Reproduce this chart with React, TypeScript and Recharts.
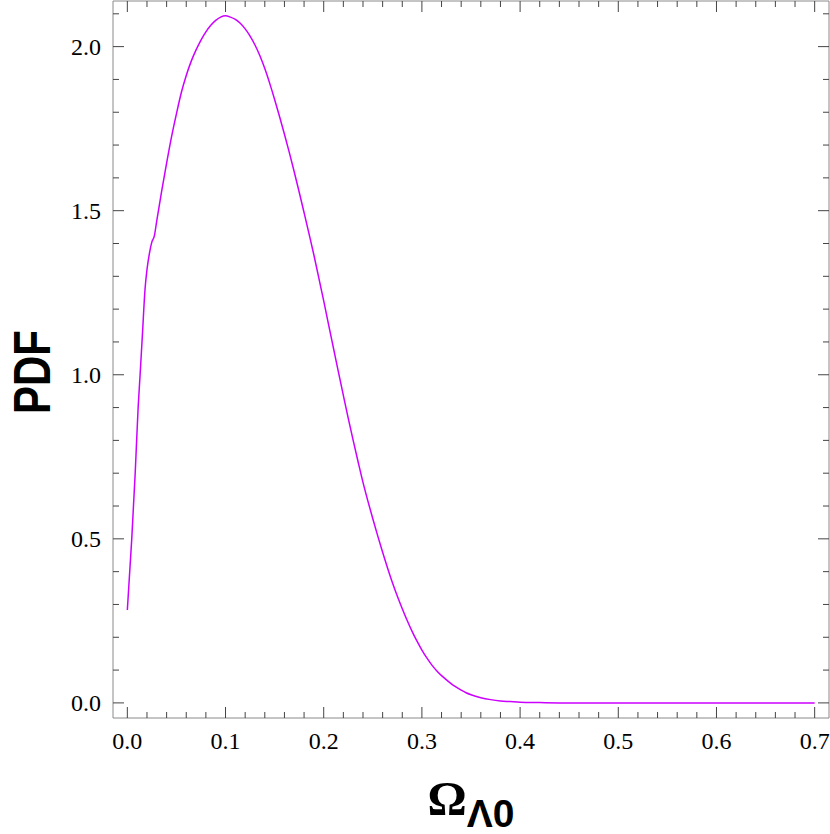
import { LineChart, Line, XAxis, YAxis } from "recharts";

// Omega_Lambda0 values and PDF
const omegaVals = [
  0, 0.0045, 0.008, 0.011, 0.013, 0.0155, 0.018, 0.02, 0.0225, 0.025, 0.0275,
  0.03, 0.035, 0.04, 0.045, 0.05, 0.055, 0.06, 0.065, 0.07, 0.075, 0.08, 0.085,
  0.09, 0.095, 0.1, 0.105, 0.11, 0.115, 0.12, 0.125, 0.13, 0.135, 0.14, 0.145,
  0.15, 0.155, 0.16, 0.165, 0.17, 0.175, 0.18, 0.185, 0.19, 0.195, 0.2, 0.205,
  0.21, 0.215, 0.22, 0.225, 0.23, 0.235, 0.24, 0.245, 0.25, 0.255, 0.26, 0.265,
  0.27, 0.275, 0.28, 0.285, 0.29, 0.295, 0.3, 0.305, 0.31, 0.315, 0.32, 0.325,
  0.33, 0.335, 0.34, 0.345, 0.35, 0.36, 0.37, 0.38, 0.39, 0.4, 0.42, 0.45,
  0.5, 0.6, 0.7,
];
const pdfVals = [
  0.283, 0.5, 0.7, 0.9, 1.0, 1.13, 1.26, 1.32, 1.37, 1.405, 1.423,
  1.47, 1.56, 1.645, 1.725, 1.795, 1.86, 1.912, 1.955, 1.99, 2.02, 2.045, 2.065,
  2.08, 2.09, 2.094, 2.09, 2.083, 2.071, 2.054, 2.032, 2.005, 1.972, 1.933, 1.888,
  1.839, 1.787, 1.733, 1.677, 1.618, 1.557, 1.494, 1.43, 1.365, 1.295, 1.225, 1.152,
  1.08, 1.008, 0.937, 0.867, 0.8, 0.735, 0.672, 0.615, 0.561, 0.509, 0.459, 0.411,
  0.366, 0.325, 0.287, 0.251, 0.218, 0.188, 0.161, 0.137, 0.116, 0.098, 0.083, 0.07,
  0.058, 0.048, 0.039, 0.031, 0.025, 0.016, 0.01, 0.006, 0.004, 0.002, 0.001, 0,
  0, 0, 0,
];

const xTicks = Array.from({ length: 36 }, (_, i) => i / 50);
const yTicks = Array.from({ length: 22 }, (_, i) => i / 10);

const X_DOMAIN = [-0.0146, 0.7146];
const Y_DOMAIN = [-0.046, 2.139];

// frame edges (chart is 830x834, plot box from margins/axis sizes below)
const PLOT_TOP = 1;
const PLOT_RIGHT = 829;

const TICK_COLOR = "#444";
const AXIS_COLOR = "#8a8a8a";
const SERIF = "'Liberation Serif', 'DejaVu Serif', serif";
const SANS = "'Liberation Sans', Arial, sans-serif";

const isMajorX = (v: number) => Math.round(v * 50) % 5 === 0;
const isMajorY = (v: number) => Math.round(v * 10) % 5 === 0;

// bottom tick + mirrored tick on the top edge
const BottomTick = ({ x, y, payload }: any) => {
  const len = isMajorX(payload.value) ? 11 : 6;
  return (
    <g>
      <line x1={x} x2={x} y1={y} y2={y - len} stroke={TICK_COLOR} />
      <line x1={x} x2={x} y1={PLOT_TOP} y2={PLOT_TOP + len} stroke={TICK_COLOR} />
      {len === 11 && (
        <text x={x} y={y + 31} textAnchor="middle" fontFamily={SERIF} fontSize={24} fill="#000">
          {payload.value.toFixed(1)}
        </text>
      )}
    </g>
  );
};

// left tick + mirrored tick on the right edge
const LeftTick = ({ x, y, payload }: any) => {
  const len = isMajorY(payload.value) ? 11 : 6;
  return (
    <g>
      <line x1={x} x2={x + len} y1={y} y2={y} stroke={TICK_COLOR} />
      <line x1={PLOT_RIGHT} x2={PLOT_RIGHT - len} y1={y} y2={y} stroke={TICK_COLOR} />
      {len === 11 && (
        <text x={x - 12} y={y + 8} textAnchor="end" fontFamily={SERIF} fontSize={24} fill="#000">
          {payload.value.toFixed(1)}
        </text>
      )}
    </g>
  );
};

export default function App() {
  const data = omegaVals.map((o, i) => ({ omega: o, pdf: pdfVals[i] }));

  return (
    <div style={{ position: "absolute", left: 0, top: 0, width: 830, height: 834, background: "#fff" }}>
      <LineChart width={830} height={834} data={data} margin={{ top: 0, right: 0, left: 0, bottom: 0 }}>
        <XAxis
          dataKey="omega"
          type="number"
          domain={X_DOMAIN}
          allowDataOverflow
          ticks={xTicks}
          interval={0}
          height={116}
          tickSize={0}
          tickMargin={0}
          tickLine={false}
          axisLine={{ stroke: AXIS_COLOR }}
          tick={<BottomTick />}
        />
        <XAxis
          xAxisId="top"
          orientation="top"
          height={1}
          tick={false}
          tickLine={false}
          axisLine={{ stroke: AXIS_COLOR }}
        />
        <YAxis
          type="number"
          domain={Y_DOMAIN}
          allowDataOverflow
          ticks={yTicks}
          interval={0}
          width={113}
          tickSize={0}
          tickMargin={0}
          tickLine={false}
          axisLine={{ stroke: AXIS_COLOR }}
          tick={<LeftTick />}
        />
        <YAxis
          yAxisId="right"
          orientation="right"
          width={1}
          tick={false}
          tickLine={false}
          axisLine={{ stroke: AXIS_COLOR }}
        />
        <Line
          type="monotone"
          dataKey="pdf"
          stroke="#cc00ff"
          strokeWidth={1.5}
          dot={false}
          isAnimationActive={false}
        />
      </LineChart>
      <svg width={830} height={834} style={{ position: "absolute", left: 0, top: 0, pointerEvents: "none" }}>
        <text
          transform="translate(50, 372) rotate(-90)"
          textAnchor="middle"
          fontFamily={SANS}
          fontWeight="bold"
          fontSize={52}
          textLength={84}
          lengthAdjust="spacingAndGlyphs"
          fill="#000"
        >
          PDF
        </text>
        <text x={471} y={815} textAnchor="middle" fill="#000">
          <tspan fontFamily={SERIF} fontWeight="bold" fontSize={49}>Ω</tspan>
          <tspan fontFamily={SANS} fontWeight="bold" fontSize={39} dy={12}>Λ0</tspan>
        </text>
      </svg>
    </div>
  );
}
